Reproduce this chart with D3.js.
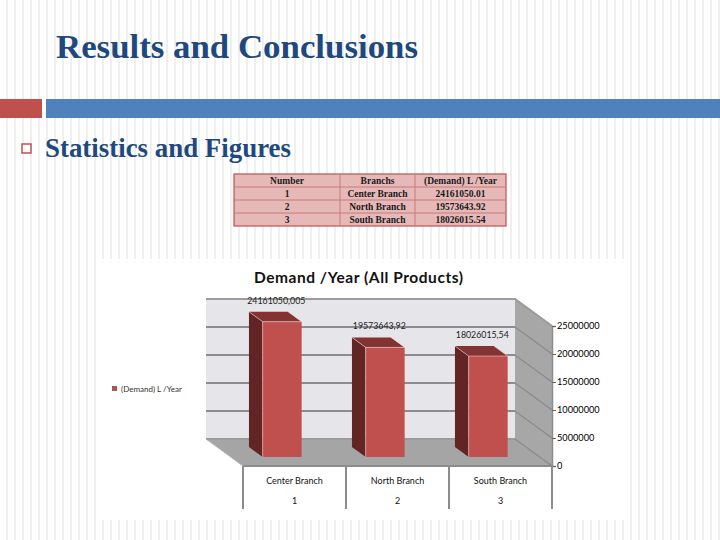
<!DOCTYPE html>
<html><head><meta charset="utf-8">
<script src="https://cdn.jsdelivr.net/npm/d3@7"></script>
<style>html,body{margin:0;padding:0;background:#fff;}svg{display:block;}</style>
</head><body>
<svg id="s" width="720" height="540"></svg>
<script>
// ---- data ----
const categories = ["Center Branch", "North Branch", "South Branch"];
const numbers = ["1", "2", "3"];
const values = [24161050.005, 19573643.92, 18026015.54];
const valueLabels = ["24161050,005", "19573643,92", "18026015,54"];
const tableHeader = ["Number", "Branchs", "(Demand) L  /Year"];
const tableValues = ["24161050.01", "19573643.92", "18026015.54"];
const yTicks = [0, 5000000, 10000000, 15000000, 20000000, 25000000];
const seriesName = "(Demand) L  /Year";
const chartTitle = "Demand /Year (All Products)";
const slideTitle = "Results and Conclusions";
const bulletText = "Statistics and Figures";

const svg = d3.select("#s");

// ---- slide background with faint vertical stripes ----
const defs = svg.append("defs");
const pat = defs.append("pattern").attr("id", "stripes").attr("patternUnits", "userSpaceOnUse")
  .attr("width", 8).attr("height", 8);
pat.append("rect").attr("width", 8).attr("height", 8).attr("fill", "#ffffff");
pat.append("rect").attr("x", 6).attr("width", 2.5).attr("height", 8).attr("fill", "#efefef");
svg.append("rect").attr("width", 720).attr("height", 540).attr("fill", "url(#stripes)");

// title
svg.append("text").attr("x", 56).attr("y", 58).text(slideTitle)
  .attr("font-family", "Liberation Serif").attr("font-weight", "bold").attr("font-size", 34)
  .attr("textLength", 362).attr("lengthAdjust", "spacingAndGlyphs")
  .attr("fill", "#1F497D");

// divider bars
svg.append("rect").attr("x", 0).attr("y", 99).attr("width", 42).attr("height", 19).attr("fill", "#C0504D");
svg.append("rect").attr("x", 46).attr("y", 99).attr("width", 674).attr("height", 19).attr("fill", "#4F81BD");

// bullet
svg.append("rect").attr("x", 22).attr("y", 144).attr("width", 9).attr("height", 9)
  .attr("fill", "#fff").attr("stroke", "#C0504D").attr("stroke-width", 1.5);
svg.append("text").attr("x", 45).attr("y", 157).text(bulletText)
  .attr("font-family", "Liberation Serif").attr("font-weight", "bold").attr("font-size", 27)
  .attr("textLength", 246).attr("lengthAdjust", "spacingAndGlyphs")
  .attr("fill", "#1F497D");

// ---- table ----
const colEdges = [234, 340, 415, 506];
const rowTop = 174, rowH = 13;
const tableRows = [tableHeader].concat(numbers.map((n, i) => [n, categories[i], tableValues[i]]));
const tg = svg.append("g");
tg.append("rect").attr("x", colEdges[0]).attr("y", rowTop).attr("width", colEdges[3] - colEdges[0])
  .attr("height", rowH * tableRows.length).attr("fill", "#E6B9B8").attr("stroke", "#C0504D").attr("stroke-width", 1.2);
tableRows.forEach((r, ri) => {
  if (ri > 0) tg.append("line").attr("x1", colEdges[0]).attr("x2", colEdges[3])
    .attr("y1", rowTop + ri * rowH).attr("y2", rowTop + ri * rowH).attr("stroke", "#C77B79").attr("stroke-width", 1);
  r.forEach((t, ci) => {
    tg.append("text").attr("x", (colEdges[ci] + colEdges[ci + 1]) / 2).attr("y", rowTop + ri * rowH + 9.8)
      .attr("text-anchor", "middle").text(t)
      .attr("font-family", "Liberation Serif").attr("font-weight", "bold").attr("font-size", 9.5).attr("fill", "#1a1a1a");
  });
});
[1, 2].forEach(ci => tg.append("line").attr("x1", colEdges[ci]).attr("x2", colEdges[ci])
  .attr("y1", rowTop).attr("y2", rowTop + rowH * tableRows.length).attr("stroke", "#C77B79").attr("stroke-width", 1));

// ---- chart panel ----
svg.append("rect").attr("x", 100).attr("y", 259).attr("width", 524).attr("height", 261).attr("fill", "#fff");

svg.append("text").attr("x", 358.5).attr("y", 283).attr("text-anchor", "middle").text(chartTitle)
  .attr("font-family", "Lato").attr("font-weight", "bold").attr("font-size", 15.5)
  .attr("textLength", 209).attr("lengthAdjust", "spacing").attr("fill", "#111");

// scales
const x = d3.scaleBand().domain(categories).range([243, 552]);
const y = d3.scaleLinear().domain([0, 25000000]).range([466, 326]);
const DX = 37, DY = 27; // depth offset (front -> back)
const P = (px, v, z) => [px - z * DX, y(v) - z * DY];
const x0 = x.range()[0], x1 = x.range()[1];
const vmax = y.domain()[1];

const g = svg.append("g");
const poly = pts => pts.map(p => p.join(",")).join(" ");

// back wall
g.append("polygon").attr("points", poly([P(x0, 0, 1), P(x1, 0, 1), P(x1, vmax, 1), P(x0, vmax, 1)]))
  .attr("fill", "#E6E6EA");
// side wall (right)
g.append("polygon").attr("points", poly([P(x1, 0, 1), P(x1, 0, 0), P(x1, vmax, 0), P(x1, vmax, 1)]))
  .attr("fill", "#A7A7A7");
// floor
g.append("polygon").attr("points", poly([P(x0, 0, 1), P(x1, 0, 1), P(x1, 0, 0), P(x0, 0, 0)]))
  .attr("fill", "#A5A5A5");

// gridlines: back wall + side wall
yTicks.forEach(t => {
  const a = P(x0, t, 1), b = P(x1, t, 1), c = P(x1, t, 0);
  g.append("line").attr("x1", a[0]).attr("y1", a[1]).attr("x2", b[0]).attr("y2", b[1])
    .attr("stroke", t === 0 ? "#9a9a9a" : "#8C8C8C").attr("stroke-width", 2);
  g.append("line").attr("x1", b[0]).attr("y1", b[1]).attr("x2", c[0]).attr("y2", c[1])
    .attr("stroke", "#8A8A8A").attr("stroke-width", 1.2);
});
// top edge of walls
{
  const a = P(x0, vmax, 1), b = P(x1, vmax, 1), c = P(x1, vmax, 0);
  g.append("polyline").attr("points", poly([a, b, c])).attr("fill", "none")
    .attr("stroke", "#9C9C9C").attr("stroke-width", 2);
}
// floor left edge
{
  const a = P(x0, 0, 1), b = P(x0, 0, 0);
  g.append("line").attr("x1", a[0]).attr("y1", a[1]).attr("x2", b[0]).attr("y2", b[1])
    .attr("stroke", "#B5B5B5").attr("stroke-width", 1);
}

// bars
const barW = 39, zF = 1 / 3, zB = 19 / 27;
categories.forEach((c, i) => {
  const v = values[i];
  const L = x(c) + (x.bandwidth() - barW) / 2, R = L + barW;
  const fLT = P(L, v, zF), fRT = P(R, v, zF), fLB = P(L, 0, zF), fRB = P(R, 0, zF);
  const bLT = P(L, v, zB), bRT = P(R, v, zB), bLB = P(L, 0, zB);
  g.append("polygon").attr("points", poly([fLT, bLT, bLB, fLB])).attr("fill", "#632523");
  g.append("polygon").attr("points", poly([fLT, fRT, bRT, bLT])).attr("fill", "#833331");
  g.append("polygon").attr("points", poly([fLT, fRT, fRB, fLB])).attr("fill", "#C0504D");
  g.append("polyline").attr("points", poly([fLB, fLT, fRT, bRT])).attr("fill", "none")
    .attr("stroke", "#F2D9D8").attr("stroke-width", 0.7).attr("opacity", 0.8);
  g.append("line").attr("x1", fLT[0]).attr("y1", fLT[1]).attr("x2", bLT[0]).attr("y2", bLT[1])
    .attr("stroke", "#F2D9D8").attr("stroke-width", 0.7).attr("opacity", 0.8);
  const cx = (fLT[0] + bRT[0]) / 2, cy = (fLT[1] + bRT[1]) / 2;
  g.append("text").attr("x", cx + 1).attr("y", cy - 13).attr("text-anchor", "middle").text(valueLabels[i])
    .attr("font-family", "Lato").attr("font-size", 8.8).attr("fill", "#222");
});

// axis on front-right edge of side wall
const axis = d3.axisRight(y).tickValues(yTicks).tickSize(4).tickPadding(1).tickFormat(d3.format("d"));
const ag = svg.append("g").attr("transform", `translate(${x1},0)`).call(axis);
ag.select(".domain").attr("stroke", "#8C8C8C").attr("stroke-width", 1.5);
ag.selectAll(".tick line").attr("stroke", "#666");
ag.selectAll(".tick text").attr("font-family", "Lato").attr("font-size", 9.2).attr("fill", "#000");
svg.append("line").attr("x1", x1).attr("x2", x1).attr("y1", y(0)).attr("y2", 478)
  .attr("stroke", "#8C8C8C").attr("stroke-width", 2);

// category table below
const cg = svg.append("g");
cg.append("line").attr("x1", x0).attr("x2", x1).attr("y1", y(0)).attr("y2", y(0))
  .attr("stroke", "#8C8C8C").attr("stroke-width", 2);
const edges = categories.map(c => x(c)).concat([x1]);
edges.forEach(e => cg.append("line").attr("x1", e).attr("x2", e).attr("y1", y(0)).attr("y2", 509)
  .attr("stroke", "#8C8C8C").attr("stroke-width", 2));
categories.forEach((c, i) => {
  const cx = x(c) + x.bandwidth() / 2;
  cg.append("text").attr("x", cx).attr("y", 484).attr("text-anchor", "middle").text(c)
    .attr("font-family", "Lato").attr("font-size", 9).attr("fill", "#111");
  cg.append("text").attr("x", cx).attr("y", 504).attr("text-anchor", "middle").text(numbers[i])
    .attr("font-family", "Lato").attr("font-size", 9).attr("fill", "#111");
});

// legend
svg.append("rect").attr("x", 112).attr("y", 386).attr("width", 5).attr("height", 5).attr("fill", "#A85553");
svg.append("text").attr("x", 121).attr("y", 392).text(seriesName)
  .attr("font-family", "Lato").attr("font-size", 8).attr("fill", "#333");
</script>
</body></html>
